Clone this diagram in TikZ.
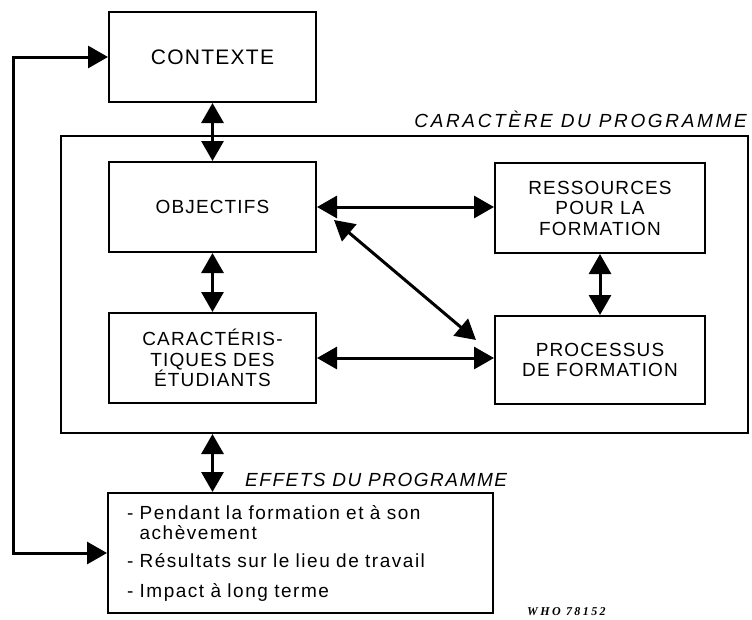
\documentclass[tikz,border=0pt]{standalone}
\usepackage{fontspec}
\setmainfont{Liberation Sans}[LetterSpace=6]
\newfontfamily\progfont{Liberation Sans}[LetterSpace=14]
\newfontfamily\effetsfont{Liberation Sans}[LetterSpace=8]
\newfontfamily\whofont{Liberation Serif}[LetterSpace=20]
\usetikzlibrary{arrows.meta,calc}
\tikzset{
  bloc/.style={draw, line width=2pt, inner sep=0pt, align=center, font=\fontsize{19}{20.5}\selectfont},
  fleche/.style={{Triangle[length=20pt,width=22pt]}-{Triangle[length=20pt,width=22pt]}, line width=3pt},
  titre/.style={inner sep=0pt, font=\progfont\itshape\fontsize{19}{20}\selectfont}
}
\begin{document}
\begin{tikzpicture}[x=1pt, y=-1pt]
\useasboundingbox (0,0) rectangle (752,619);

\node[bloc, minimum width=207pt, minimum height=90pt, font=\fontsize{21}{22}\selectfont] (contexte) at (212.5,57) {CONTEXTE};
\node[bloc, minimum width=687pt, minimum height=297pt] (programme) at (404.5,284.5) {};
\node[titre, anchor=base east] (titreprog) at (747,127) {CARACTÈRE DU PROGRAMME};

\node[bloc, minimum width=207pt, minimum height=90pt] (objectifs) at (212.5,207) {OBJECTIFS};
\node[bloc, minimum width=207pt, minimum height=90pt] (caract) at (212.5,358) {CARACTÉRIS-\\TIQUES DES\\ÉTUDIANTS};
\node[bloc, minimum width=210pt, minimum height=90pt] (ressources) at (600,208) {RESSOURCES\\POUR LA\\FORMATION};
\node[bloc, minimum width=210pt, minimum height=88pt] (processus) at (600,360) {PROCESSUS\\DE FORMATION};

\node[titre, anchor=base west, font=\effetsfont\itshape\fontsize{19}{20}\selectfont] (titreeffets) at (245,486) {EFFETS DU PROGRAMME};
\node[bloc, align=left, text width=347pt, inner xsep=19pt, minimum height=120pt, font=\effetsfont\fontsize{19}{20}\selectfont] (effets) at (300.5,553)
  {- Pendant la formation et à son\\\hphantom{- }achèvement\\[8pt]- Résultats sur le lieu de travail\\[10pt]- Impact à long terme};
\node[anchor=base west, inner sep=0pt, font=\whofont\bfseries\itshape\fontsize{12}{13}\selectfont] (who) at (527,615) {WHO 78152};

\draw[fleche] (contexte) -- (objectifs);
\draw[fleche] (objectifs) -- (caract);
\draw[fleche] (objectifs.east) -- (objectifs.east -| ressources.west);
\draw[fleche] (caract.east) -- (caract.east -| processus.west);
\draw[fleche] (ressources) -- (processus);
\draw[fleche] ($(objectifs.east)+(17,13)$) -- ($(processus.west)+(-18,-20)$);
\draw[fleche] (programme.south -| caract) -- (effets.north -| caract);

\coordinate (retour) at (13,0);
\draw[fleche] (contexte.west) -- (contexte.west -| retour) -- (effets.west -| retour) -- (effets.west);
\end{tikzpicture}
\end{document}
